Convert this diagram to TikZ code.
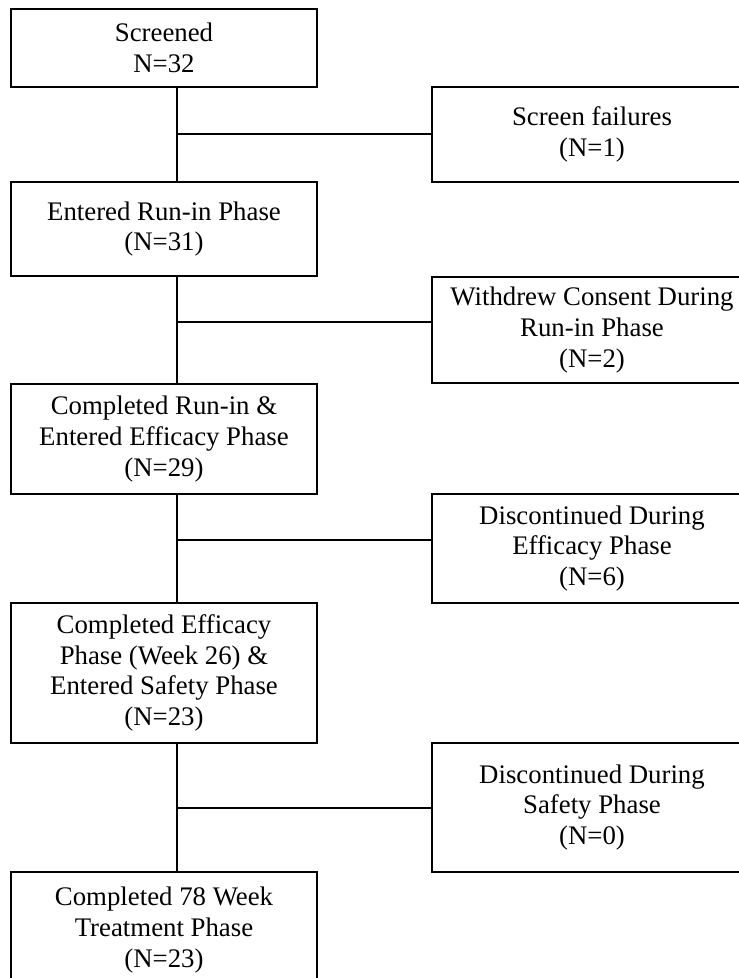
\documentclass[tikz,border=0pt]{standalone}
\usepackage{fontspec}
\setmainfont{Liberation Serif}
\usetikzlibrary{calc}

\begin{document}
\begin{tikzpicture}[x=1pt,y=-1pt,line width=1.2pt,
  stage/.style={draw,align=center,inner sep=0pt,minimum width=306pt,font=\fontsize{26.8}{30.8}\selectfont},
  drop/.style={stage,minimum width=320pt}]
  \useasboundingbox (0,0) rectangle (739,978);
  \clip (0,0) rectangle (739,978);
  % main stages
  \node[stage,minimum height=78pt]  (scr) at (164,48)  {Screened\\N=32};
  \node[stage,minimum height=94pt]  (run) at (164,229) {Entered Run-in Phase\\(N=31)};
  \node[stage,minimum height=110pt] (eff) at (164,439) {Completed Run-in \&\\Entered Efficacy Phase\\(N=29)};
  \node[stage,minimum height=140pt] (saf) at (164,673) {Completed Efficacy\\Phase (Week 26) \&\\Entered Safety Phase\\(N=23)};
  \node[stage,minimum height=116pt] (fin) at (164,930) {Completed 78 Week\\Treatment Phase\\(N=23)};
  % drop-outs
  \node[drop,minimum height=95pt]  (fail) at (592,134.5) {Screen failures\\(N=1)};
  \node[drop,minimum height=106pt] (wdr)  at (592,330)   {Withdrew Consent During\\Run-in Phase\\(N=2)};
  \node[drop,minimum height=109pt] (deff) at (592,548.5) {Discontinued During\\Efficacy Phase\\(N=6)};
  \node[drop,minimum height=129pt] (dsaf) at (592,807.5) {Discontinued During\\Safety Phase\\(N=0)};
  % spine
  \coordinate (sp) at (177,0);
  \draw (scr.south -| sp) -- (run.north -| sp);
  \draw (run.south -| sp) -- (eff.north -| sp);
  \draw (eff.south -| sp) -- (saf.north -| sp);
  \draw (saf.south -| sp) -- (fin.north -| sp);
  % branches
  \coordinate (j1) at (177,134);
  \coordinate (j2) at (177,322);
  \coordinate (j3) at (177,540);
  \coordinate (j4) at (177,808);
  \draw (j1) -- (j1 -| fail.west);
  \draw (j2) -- (j2 -| wdr.west);
  \draw (j3) -- (j3 -| deff.west);
  \draw (j4) -- (j4 -| dsaf.west);
\end{tikzpicture}
\end{document}
